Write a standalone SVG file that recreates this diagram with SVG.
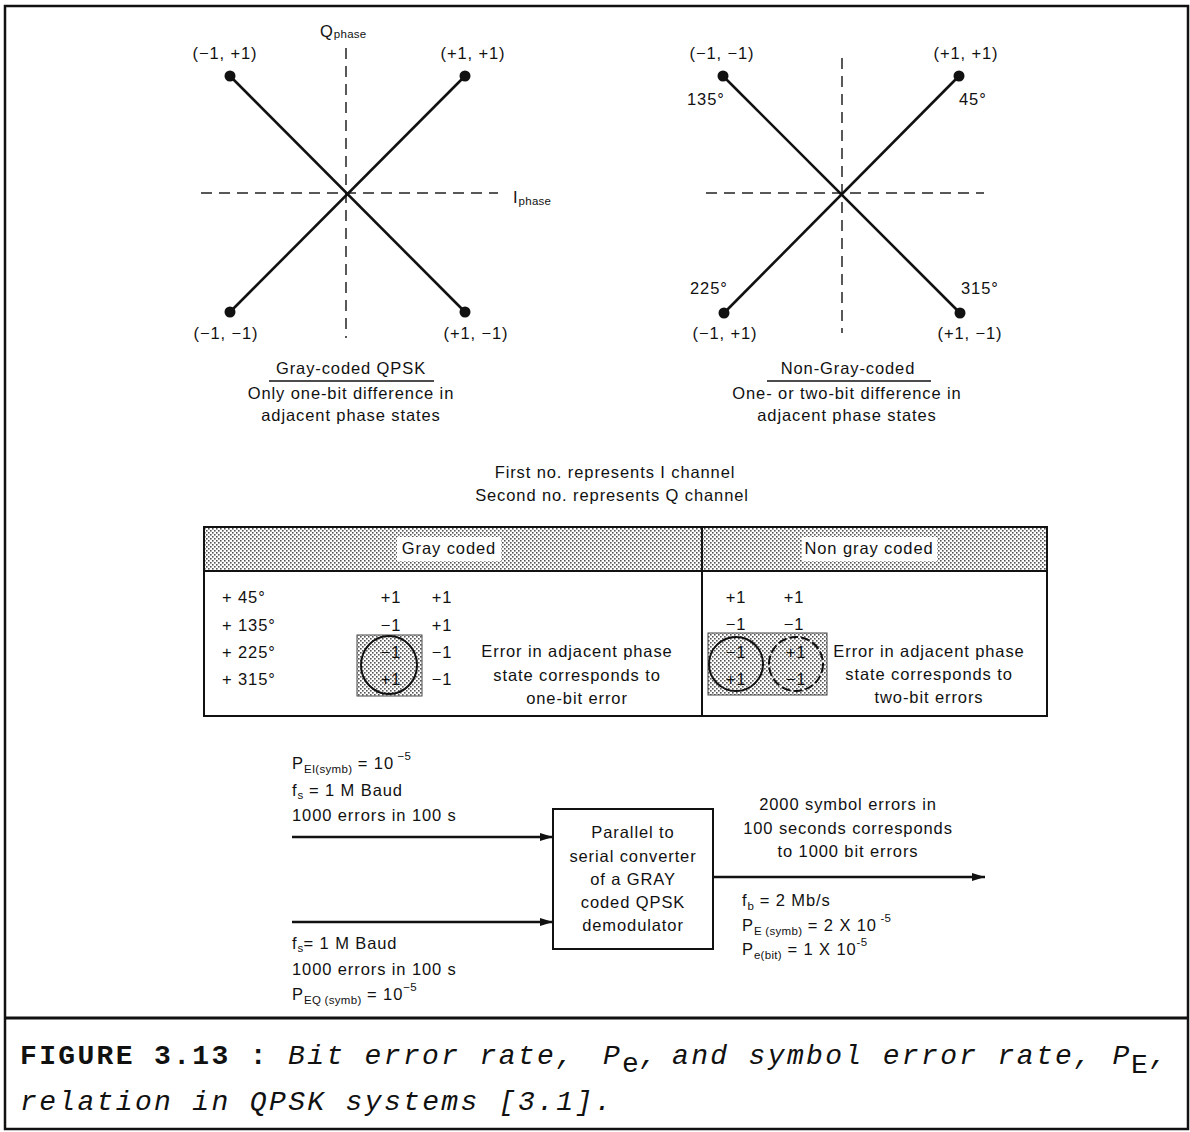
<svg xmlns="http://www.w3.org/2000/svg" width="1190" height="1132" viewBox="0 0 1190 1132">
<defs>
<pattern id="stip" width="4" height="4" patternUnits="userSpaceOnUse">
<rect width="4" height="4" fill="#fff"/>
<rect x="0" y="0" width="1.6" height="1.6" fill="#555"/>
<rect x="2" y="2" width="1.6" height="1.6" fill="#555"/>
</pattern>
<marker id="ah" viewBox="0 0 13 8" refX="13" refY="4" markerWidth="13" markerHeight="8" markerUnits="userSpaceOnUse" orient="auto">
<path d="M0,0 L13,4 L0,8 z" fill="#111"/>
</marker>
</defs>
<style>
.t{font-family:"Liberation Sans",Arial,sans-serif;font-size:16.5px;letter-spacing:0.9px;fill:#111}
.m{text-anchor:middle}
.sub{font-size:11.5px;letter-spacing:0.3px}
.ax{stroke:#222;stroke-width:1.5;stroke-dasharray:11 7;fill:none}
.xl{stroke:#111;stroke-width:2.6}
.dot{fill:#111}
.ln{stroke:#111;stroke-width:2;fill:none}
.thin{stroke:#333;stroke-width:1;fill:none}
.cap{font-family:"Liberation Mono","Courier New",monospace;font-size:28px;letter-spacing:2.35px;fill:#111}
.arr{stroke:#111;stroke-width:2.6;fill:none;marker-end:url(#ah)}
</style>
<rect width="1190" height="1132" fill="#fff"/>

<g id="frame">
<rect x="5" y="6" width="1183" height="1123" fill="none" stroke="#111" stroke-width="2.5"/>
<line x1="5" y1="1018" x2="1188" y2="1018" stroke="#111" stroke-width="3"/>
</g>

<g id="gray-constellation">
<line class="ax" x1="346" y1="48" x2="346" y2="338"/>
<line class="ax" x1="201" y1="193" x2="498" y2="193"/>
<line class="xl" x1="230" y1="76" x2="465" y2="312"/>
<line class="xl" x1="465" y1="76" x2="230" y2="312"/>
<circle class="dot" cx="230" cy="76" r="5.5"/>
<circle class="dot" cx="465" cy="76" r="5.5"/>
<circle class="dot" cx="230" cy="312" r="5.5"/>
<circle class="dot" cx="465" cy="312" r="5.5"/>
<text class="t" x="320" y="37">Q<tspan class="sub" dy="1">phase</tspan></text>
<text class="t" x="513" y="203">I<tspan class="sub" dy="2">phase</tspan></text>
<text class="t m" x="225" y="59">(−1, +1)</text>
<text class="t m" x="473" y="59">(+1, +1)</text>
<text class="t m" x="226" y="339">(−1, −1)</text>
<text class="t m" x="476" y="339">(+1, −1)</text>
<text class="t m" x="351" y="374">Gray-coded QPSK</text>
<line x1="269" y1="381" x2="434" y2="381" stroke="#111" stroke-width="1.3"/>
<text class="t m" x="351" y="399">Only one-bit difference in</text>
<text class="t m" x="351" y="421">adjacent phase states</text>
</g>

<g id="nongray-constellation">
<line class="ax" x1="842" y1="58" x2="842" y2="333"/>
<line class="ax" x1="706" y1="193" x2="984" y2="193"/>
<line class="xl" x1="723" y1="76" x2="960" y2="313"/>
<line class="xl" x1="959" y1="76" x2="724" y2="313"/>
<circle class="dot" cx="723" cy="76" r="5.5"/>
<circle class="dot" cx="959" cy="76" r="5.5"/>
<circle class="dot" cx="724" cy="313" r="5.5"/>
<circle class="dot" cx="960" cy="313" r="5.5"/>
<text class="t m" x="722" y="59">(−1, −1)</text>
<text class="t m" x="966" y="59">(+1, +1)</text>
<text class="t" x="687" y="105">135°</text>
<text class="t" x="959" y="105">45°</text>
<text class="t" x="690" y="294">225°</text>
<text class="t" x="961" y="294">315°</text>
<text class="t m" x="725" y="339">(−1, +1)</text>
<text class="t m" x="970" y="339">(+1, −1)</text>
<text class="t m" x="848" y="374">Non-Gray-coded</text>
<line x1="767" y1="381" x2="931" y2="381" stroke="#111" stroke-width="1.3"/>
<text class="t m" x="847" y="399">One- or two-bit difference in</text>
<text class="t m" x="847" y="421">adjacent phase states</text>
</g>

<g id="legend">
<text class="t m" x="615" y="478">First no. represents I channel</text>
<text class="t m" x="612" y="501">Second no. represents Q channel</text>
</g>

<g id="table">
<rect x="204" y="527" width="843" height="44" fill="url(#stip)"/>
<rect x="397" y="537" width="104" height="24" fill="#fff"/>
<rect x="802" y="537" width="135" height="24" fill="#fff"/>
<rect class="ln" x="204" y="527" width="843" height="189"/>
<line class="ln" x1="204" y1="571" x2="1047" y2="571"/>
<line class="ln" x1="702" y1="527" x2="702" y2="716"/>
<text class="t m" x="449" y="554">Gray coded</text>
<text class="t m" x="869" y="554">Non gray coded</text>

<text class="t" x="222" y="603">+ 45°</text>
<text class="t" x="222" y="631">+ 135°</text>
<text class="t" x="222" y="658">+ 225°</text>
<text class="t" x="222" y="685">+ 315°</text>

<rect x="357" y="635" width="65" height="61" fill="url(#stip)" stroke="#444" stroke-width="1"/>
<ellipse class="ln" cx="389" cy="665" rx="28" ry="29" stroke-width="1.6"/>
<text class="t m" x="391" y="603">+1</text>
<text class="t m" x="391" y="631">−1</text>
<text class="t m" x="391" y="658">−1</text>
<text class="t m" x="391" y="685">+1</text>
<text class="t m" x="442" y="603">+1</text>
<text class="t m" x="442" y="631">+1</text>
<text class="t m" x="442" y="658">−1</text>
<text class="t m" x="442" y="685">−1</text>
<text class="t m" x="577" y="657">Error in adjacent phase</text>
<text class="t m" x="577" y="681">state corresponds to</text>
<text class="t m" x="577" y="704">one-bit error</text>

<rect x="708" y="633" width="119" height="62" fill="url(#stip)" stroke="#444" stroke-width="1"/>
<circle class="ln" cx="736" cy="664" r="27" stroke-width="1.5"/>
<circle class="ln" cx="796" cy="664" r="27" stroke-width="1.4" stroke-dasharray="9 3"/>
<text class="t m" x="736" y="603">+1</text>
<text class="t m" x="736" y="630">−1</text>
<text class="t m" x="736" y="658">−1</text>
<text class="t m" x="736" y="685">+1</text>
<text class="t m" x="794" y="603">+1</text>
<text class="t m" x="794" y="630">−1</text>
<text class="t m" x="796" y="658">+1</text>
<text class="t m" x="796" y="685">−1</text>
<text class="t m" x="929" y="657">Error in adjacent phase</text>
<text class="t m" x="929" y="680">state corresponds to</text>
<text class="t m" x="929" y="703">two-bit errors</text>
</g>

<g id="converter">
<rect class="ln" x="553" y="809" width="160" height="140"/>
<text class="t m" x="633" y="838">Parallel to</text>
<text class="t m" x="633" y="862">serial converter</text>
<text class="t m" x="633" y="885">of a GRAY</text>
<text class="t m" x="633" y="908">coded QPSK</text>
<text class="t m" x="633" y="931">demodulator</text>
</g>

<g id="input-i">
<text class="t" x="292" y="769">P<tspan class="sub" dy="4">EI(symb)</tspan><tspan dy="-4"> = 10</tspan><tspan class="sub" dy="-9"> −5</tspan></text>
<text class="t" x="292" y="796">f<tspan class="sub" dy="3">s</tspan><tspan dy="-3"> = 1 M Baud</tspan></text>
<text class="t" x="292" y="821">1000 errors in 100 s</text>
</g>

<g id="input-q">
<text class="t" x="292" y="949">f<tspan class="sub" dy="3">s</tspan><tspan dy="-3">= 1 M Baud</tspan></text>
<text class="t" x="292" y="975">1000 errors in 100 s</text>
<text class="t" x="292" y="1000">P<tspan class="sub" dy="4">EQ (symb)</tspan><tspan dy="-4"> = 10</tspan><tspan class="sub" dy="-9">−5</tspan></text>
</g>

<g id="output">
<text class="t m" x="848" y="810">2000 symbol errors in</text>
<text class="t m" x="848" y="834">100 seconds corresponds</text>
<text class="t m" x="848" y="857">to 1000 bit errors</text>
<text class="t" x="742" y="906">f<tspan class="sub" dy="4">b</tspan><tspan dy="-4"> = 2 Mb/s</tspan></text>
<text class="t" x="742" y="931">P<tspan class="sub" dy="4">E (symb)</tspan><tspan dy="-4"> = 2 X 10</tspan><tspan class="sub" dy="-9"> -5</tspan></text>
<text class="t" x="742" y="955">P<tspan class="sub" dy="4">e(bit)</tspan><tspan dy="-4"> = 1 X 10</tspan><tspan class="sub" dy="-9">-5</tspan></text>
</g>

<g id="connectors">
<line class="arr" x1="292" y1="837" x2="553" y2="837"/>
<line class="arr" x1="292" y1="922" x2="553" y2="922"/>
<line class="arr" x1="713" y1="877" x2="985" y2="877"/>
</g>

<g id="caption">
<text class="cap" x="20" y="1064"><tspan font-weight="bold">FIGURE 3.13 :</tspan></text>
<text class="cap" x="288" y="1064" font-style="italic">Bit error rate,</text>
<text class="cap" x="603" y="1064" font-style="italic">P</text>
<text class="cap" x="622" y="1072" font-size="21" letter-spacing="0">e</text>
<text class="cap" x="640" y="1064" font-style="italic">,</text>
<text class="cap" x="672" y="1064" font-style="italic">and symbol error rate, P</text>
<text class="cap" x="1131" y="1073" font-size="21" letter-spacing="0">E</text>
<text class="cap" x="1150" y="1064" font-style="italic">,</text>
<text class="cap" x="20" y="1110" font-style="italic">relation in QPSK systems [3.1].</text>
</g>
</svg>
